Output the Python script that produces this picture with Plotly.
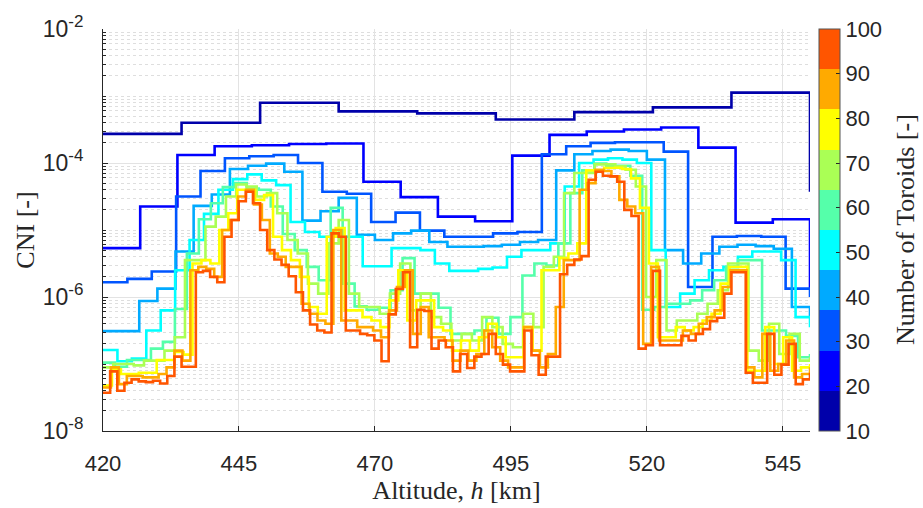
import numpy as np
import plotly.graph_objects as go

# ---------------- data (log10 of CNI, one value per altitude node) ----------------
alt_min, alt_max = 420, 550
toroids = [10, 20, 30, 40, 50, 60, 70, 80, 90, 100]
x_ticks = [420, 445, 470, 495, 520, 545]
y_tick_vals = [1e-8, 1e-6, 1e-4, 1e-2]
y_tick_exps = ["-8", "-6", "-4", "-2"]

log_cni_10 = [-3.565, -3.40, -3.10, -3.23, -3.26, -3.35, -3.24, -3.17, -2.95, -4.43]

log_cni_20 = [-5.27, -4.65, -3.88, -3.75, -3.735, -3.716, -3.71, -4.28, -4.51, -4.80,
              -4.87, -3.89, -3.58, -3.53, -3.50, -3.47, -3.77, -4.89, -4.84, -5.875]

log_cni_30 = [-5.78, -5.73, -5.62, -4.50, -4.12, -3.93, -3.90, -3.88, -4.00, -4.43,
              -4.46, -4.88, -4.74, -5.01, -5.10, -5.10, -5.05, -5.03, -3.87, -3.75,
              -3.70, -3.69, -3.69, -3.83, -5.85, -5.10, -5.09, -5.10, -5.875, -6.00]

log_cni_40 = [-6.51, -6.51, -6.06, -5.875, -5.32, -4.64, -4.47, -4.09, -4.04, -4.01,
              -4.13, -4.86, -4.72, -4.52, -5.07, -5.15, -5.05, -5.01, -5.18, -5.25,
              -5.25, -5.24, -5.22, -5.18, -5.15, -4.11, -3.87, -3.82, -3.80, -3.82,
              -3.95, -5.30, -5.50, -5.35, -5.25, -5.22, -5.24, -5.28, -6.15, -6.30]

log_cni_50 = [-6.79, -6.96, -6.92, -6.50, -6.20, -5.60, -5.15, -4.76, -4.40, -4.24,
              -4.17, -4.26, -4.33, -4.88, -5.03, -5.10, -5.10, -5.10, -5.54, -5.54,
              -5.27, -5.27, -5.30, -5.50, -5.61, -5.61, -5.58, -5.56, -5.40, -5.30,
              -5.30, -5.20, -4.35, -4.00, -3.95, -3.93, -3.95, -4.00, -5.30, -6.15,
              -5.95, -5.75, -5.60, -5.55, -5.40, -5.32, -5.32, -5.45, -6.30, -6.45]

log_cni_60 = [-6.98, -7.04, -6.94, -6.94, -6.77, -6.67, -6.18, -5.35, -4.84, -4.60,
              -4.36, -4.30, -4.38, -4.40, -4.65, -5.06, -5.30, -5.55, -5.75, -4.67,
              -5.80, -6.14, -6.19, -6.16, -5.90, -5.42, -5.95, -5.95, -6.16, -6.55,
              -6.55, -6.50, -6.31, -6.55, -6.30, -5.68, -5.50, -5.53, -5.20, -4.45,
              -4.11, -4.01, -4.04, -4.04, -4.19, -6.19, -6.15, -6.10, -6.10, -6.05,
              -5.90, -5.75, -5.55, -5.45, -5.45, -6.50, -6.50, -6.58, -6.90, -6.85]

log_cni_70 = [-7.05, -7.00, -7.00, -7.02, -6.95, -6.95, -6.80, -6.60, -5.45, -5.45,
              -4.95, -4.80, -4.50, -4.32, -4.35, -4.50, -4.45, -4.75, -5.15, -5.35,
              -5.80, -5.95, -5.20, -4.85, -5.95, -6.15, -6.15, -6.25, -5.95, -5.50,
              -6.20, -5.95, -6.30, -6.40, -6.65, -6.55, -6.65, -6.30, -6.45, -6.70,
              -6.75, -6.25, -6.45, -5.55, -5.40, -4.45, -4.15, -4.15, -4.02, -4.02,
              -4.05, -4.10, -4.35, -6.00, -5.45, -6.50, -6.35, -6.35, -6.25, -6.10,
              -5.90, -5.50, -5.50, -6.80, -6.95, -6.40, -6.85, -6.55, -6.95, -6.90]

log_cni_80 = [-7.32, -7.08, -7.15, -7.15, -7.13, -7.13, -6.94, -6.94, -6.82, -6.86,
              -5.50, -5.45, -5.50, -5.00, -4.75, -4.40, -4.40, -4.55, -4.48, -5.10,
              -5.30, -5.45, -5.70, -6.15, -6.25, -5.10, -4.97, -6.20, -6.20, -6.30,
              -6.35, -6.45, -6.05, -5.60, -6.35, -6.05, -6.05, -6.45, -6.50, -6.80,
              -6.65, -6.80, -6.60, -6.40, -6.60, -6.90, -6.90, -6.45, -6.80, -5.60,
              -5.60, -5.42, -5.35, -5.20, -4.11, -4.11, -4.07, -4.07, -4.09, -4.23,
              -4.67, -5.50, -6.60, -6.60, -6.45, -6.50, -6.45, -6.35, -6.25, -5.80,
              -5.55, -5.55, -7.10, -7.10, -6.45, -7.00, -6.60, -7.10, -7.05, -7.00]

log_cni_90 = [-7.35, -7.05, -7.30, -7.18, -7.18, -7.20, -7.20, -7.15, -7.05, -6.80,
              -6.95, -5.60, -5.55, -5.58, -5.70, -5.00, -4.85, -4.50, -4.40, -4.62,
              -4.85, -5.35, -5.40, -5.55, -5.55, -6.10, -6.25, -6.35, -6.40, -5.00,
              -6.35, -6.35, -6.45, -6.45, -6.50, -6.60, -6.20, -5.85, -5.60, -6.55,
              -6.15, -6.60, -6.60, -6.65, -6.95, -6.80, -6.95, -6.85, -6.50, -6.75,
              -6.95, -7.05, -7.05, -6.45, -6.80, -7.05, -6.85, -6.15, -5.45, -5.45,
              -4.40, -4.30, -4.10, -4.12, -4.20, -4.55, -4.65, -4.75, -6.70, -5.55,
              -6.65, -6.65, -6.65, -6.50, -6.55, -6.40, -6.30, -6.20, -5.85, -5.60,
              -5.60, -7.05, -7.20, -6.55, -7.10, -7.00, -6.65, -7.20, -7.15, -7.05]

log_cni_100 = [-7.43, -7.11, -7.40, -7.28, -7.23, -7.26, -7.27, -7.25, -7.29, -7.18,
               -6.89, -7.04, -7.04, -5.63, -5.61, -5.70, -5.78, -5.10, -4.85, -4.57,
               -4.43, -4.60, -5.00, -5.30, -5.44, -5.52, -5.69, -5.93, -6.20, -6.41,
               -6.50, -6.53, -5.05, -5.10, -6.50, -6.50, -6.55, -6.57, -6.65, -6.96,
               -6.26, -5.88, -5.63, -6.75, -6.19, -6.21, -6.77, -6.65, -6.75, -7.11,
               -6.85, -7.06, -6.89, -6.85, -6.55, -6.85, -7.01, -7.11, -7.11, -6.50,
               -6.87, -7.16, -6.89, -6.89, -5.66, -5.52, -5.44, -5.39, -4.25, -4.13,
               -4.19, -4.20, -4.28, -4.70, -4.79, -6.77, -6.72, -5.61, -6.72, -6.72,
               -6.72, -6.58, -6.65, -6.55, -6.48, -6.36, -6.31, -5.95, -5.63, -5.63,
               -7.13, -7.28, -7.28, -6.55, -7.16, -7.01, -6.70, -7.30, -7.23, -7.13]

series = [log_cni_10, log_cni_20, log_cni_30, log_cni_40, log_cni_50,
          log_cni_60, log_cni_70, log_cni_80, log_cni_90, log_cni_100]

# jet(10) colours
colors = ["#0000AA", "#0000FF", "#0055FF", "#00AAFF", "#00FFFF",
          "#55FFAA", "#AAFF55", "#FFFF00", "#FFAA00", "#FF5500"]

TXT = "#262626"
SANS = "Liberation Sans, Arial, sans-serif"
SERIF = "Liberation Serif, Times New Roman, serif"

y_tick_text = [f"10<sup><span style='font-size:17px'>{e}</span></sup>" for e in y_tick_exps]

fig = go.Figure()
for n, logv, col in zip(toroids, series, colors):
    alt = np.linspace(alt_min, alt_max, len(logv))
    fig.add_trace(go.Scatter(
        x=alt, y=10.0 ** np.array(logv), mode="lines",
        line=dict(color=col, width=2.6, shape="hv"),
        showlegend=False, hoverinfo="skip", name=f"{n} toroids"))

# discrete colour bar
cs = []
for i, c in enumerate(colors):
    cs += [[i / len(colors), c], [(i + 1) / len(colors), c]]

fig.add_trace(go.Scatter(
    x=[None], y=[None], mode="markers", showlegend=False, hoverinfo="skip",
    marker=dict(color=[toroids[0]], colorscale=cs, cmin=toroids[0], cmax=toroids[-1],
                showscale=True,
                colorbar=dict(
                    tickvals=toroids, ticks="inside", ticklen=4, tickcolor=TXT,
                    thickness=21, thicknessmode="pixels",
                    len=1, lenmode="fraction", y=0.5, yanchor="middle",
                    x=1.0127, xanchor="left", xpad=0, ypad=0,
                    outlinewidth=1, outlinecolor="#555555",
                    tickfont=dict(family=SANS, size=22, color=TXT),
                ))))

# colour-bar title
fig.add_annotation(text="Number of Toroids [-]", textangle=-90, showarrow=False,
                   xref="paper", yref="paper", x=1.1345, y=0.5,
                   xanchor="center", yanchor="middle",
                   font=dict(family=SERIF, size=26, color=TXT))

# minor log grid values
minor_vals = []
for e in range(-8, -2):
    for m in range(1, 10):
        v = m * 10.0 ** e
        if m == 1 and e % 2 == 0:
            continue
        minor_vals.append(v)

fig.update_layout(
    width=923, height=508,
    margin=dict(l=103, r=113, t=19, b=75, pad=0),
    paper_bgcolor="white", plot_bgcolor="white",
    xaxis=dict(
        range=[alt_min, alt_max], tickvals=x_ticks, ticks="inside", ticklen=5,
        tickcolor=TXT, showline=True, linecolor=TXT, linewidth=1,
        showgrid=True, gridcolor="#e3e3e3", gridwidth=1, zeroline=False,
        tickfont=dict(family=SANS, size=22, color=TXT), ticklabelstandoff=13,
        title=dict(text="Altitude, <i>h</i> [km]", standoff=1,
                   font=dict(family=SERIF, size=26, color=TXT)),
    ),
    yaxis=dict(
        type="log", range=[-8, -2], tickvals=y_tick_vals, ticktext=y_tick_text,
        ticks="inside", ticklen=5, tickcolor=TXT, showline=True, linecolor=TXT,
        linewidth=1, showgrid=True, gridcolor="#e3e3e3", gridwidth=1, zeroline=False,
        tickfont=dict(family=SANS, size=23, color=TXT), ticklabelstandoff=14,
        minor=dict(tickvals=minor_vals, ticks="inside", ticklen=3, tickcolor=TXT,
                   showgrid=True, gridcolor="#dedede", griddash="dot", gridwidth=1),
        title=dict(text="CNI [-]", standoff=0,
                   font=dict(family=SERIF, size=26, color=TXT)),
    ),
)

fig.write_html("out.html")
